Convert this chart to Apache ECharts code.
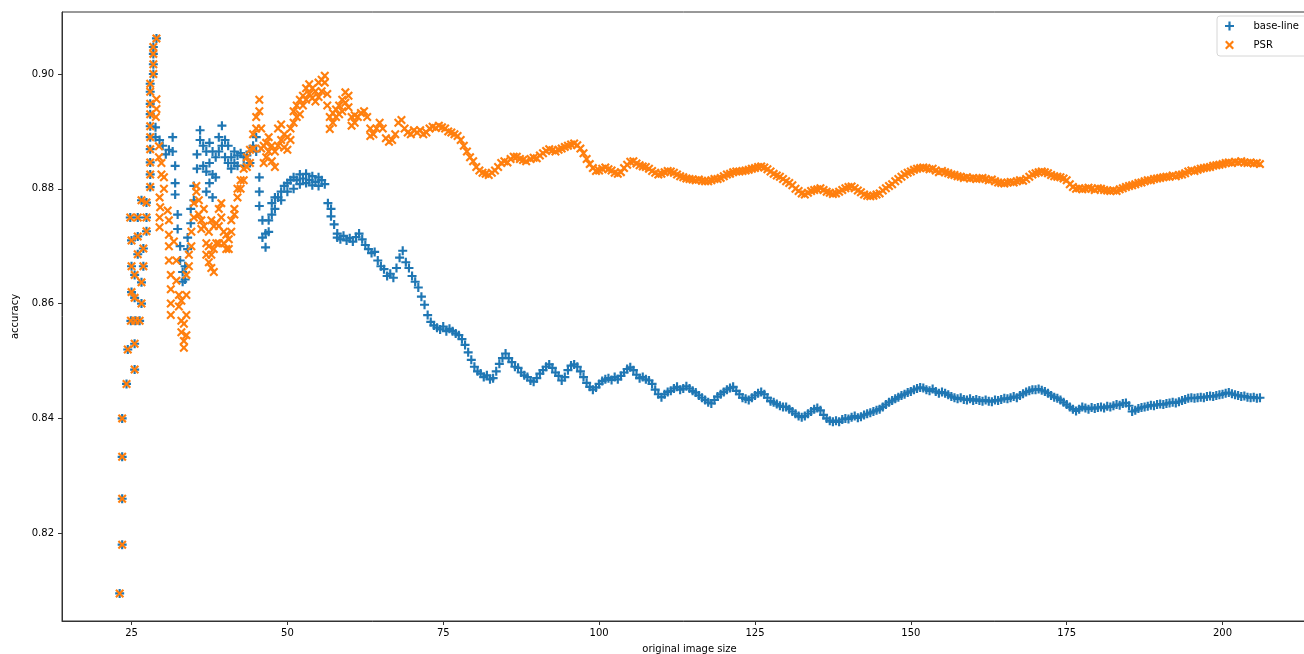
<!DOCTYPE html>
<html>
<head>
<meta charset="utf-8">
<script src="https://cdn.jsdelivr.net/npm/echarts@6/dist/echarts.min.js"></script>
<style>
  html, body { margin: 0; padding: 0; background: #fff; }
  #chart { width: 1304px; height: 654px; }
</style>
</head>
<body>
<div id="chart"></div>
<script>
// points shared by both runs (smallest images, same predictions)
const sharedPoints = [
  [23.1, 0.8095], [23.5, 0.818], [23.5, 0.826], [23.5, 0.8333], [23.5, 0.84],
  [24.2, 0.846], [25.5, 0.8485], [24.4, 0.852], [25.5, 0.853],
  [24.9, 0.857], [25.6, 0.857], [26.3, 0.857], [25.0, 0.862], [25.5, 0.861], [26.6, 0.860],
  [25.0, 0.8665], [26.9, 0.8665], [25.5, 0.865], [26.6, 0.8637], [26.0, 0.8686], [26.9, 0.8696],
  [25.0, 0.871], [26.0, 0.8717], [27.4, 0.8726], [24.8, 0.875], [26.0, 0.875], [27.4, 0.875],
  [26.6, 0.878], [27.4, 0.8776],
  [28.0, 0.8803], [28.0, 0.8825], [28.0, 0.8846], [28.0, 0.8869], [28.0, 0.889],
  [28.0, 0.8909], [28.0, 0.893], [28.0, 0.8948], [28.0, 0.8969], [28.0, 0.8983],
  [28.5, 0.90], [28.5, 0.9017], [28.5, 0.9035], [28.5, 0.9047], [29.0, 0.9062]
];

// base-line: [original image size, accuracy]
const baseLinePoints = [
  [28.85, 0.8907], [28.85, 0.889], [29.5, 0.8885], [30, 0.8875], [30.5, 0.886], [31, 0.8868],
  [31.6, 0.889], [31.6, 0.8865], [32, 0.884], [32, 0.881], [32, 0.879],
  [32.4, 0.8755], [32.4, 0.873], [32.8, 0.870], [32.8, 0.8675], [33.2, 0.8655], [33.2, 0.8638],
  [33.6, 0.8642], [33.6, 0.8665], [34, 0.8695], [34, 0.8715], [34.5, 0.874], [34.5, 0.8765],
  [35, 0.878], [35, 0.8805], [35.5, 0.8835], [35.5, 0.886], [36, 0.8885], [36, 0.8902],
  [36.5, 0.8875], [36.5, 0.884], [37, 0.8795], [37, 0.883], [37, 0.8865],
  [37.5, 0.888], [37.5, 0.8845], [37.5, 0.881], [38, 0.8785], [38, 0.8825], [38, 0.8865],
  [38.5, 0.8855], [38.5, 0.882], [39, 0.8865], [39, 0.889], [39.5, 0.891], [39.5, 0.8875],
  [40, 0.8885], [40, 0.8855], [40.5, 0.8845], [40.5, 0.8875], [41, 0.8855], [41, 0.8835],
  [41.5, 0.8845], [41.5, 0.8865], [42, 0.8858], [42, 0.884], [42.5, 0.8862],
  [43, 0.8855], [43, 0.884], [43.5, 0.8858], [44, 0.8865], [44, 0.8845], [44.5, 0.8875],
  [45, 0.889], [45, 0.8865], [45.5, 0.882], [45.5, 0.8795], [45.5, 0.877],
  [46, 0.8745], [46, 0.8715], [46.5, 0.8698], [46.5, 0.8722], [47, 0.8745], [47, 0.8725],
  [47.5, 0.8755], [47.5, 0.8775], [48, 0.8765], [48, 0.8785], [48.5, 0.8785],
  [49, 0.8795], [49, 0.878], [49.5, 0.8805], [50, 0.8795], [50, 0.881], [50.5, 0.8815],
  [51, 0.88], [51, 0.882], [51.5, 0.8815], [52, 0.8825], [52, 0.8808], [52.5, 0.8818],
  [53, 0.8826], [53, 0.881], [53.5, 0.8815], [54, 0.8822], [54, 0.8806], [54.5, 0.8812],
  [55, 0.8805], [55, 0.882], [55.5, 0.8815], [56, 0.8808], [56.5, 0.8775],
  [57, 0.8752], [57, 0.8765], [57.5, 0.8738], [58, 0.8715], [58, 0.8722],
  [58.5, 0.8712], [59, 0.8718], [59.5, 0.871], [60, 0.8714], [60.5, 0.8708], [61, 0.8716],
  [61.5, 0.8722], [62, 0.8712], [62.5, 0.8702], [63, 0.8695], [63.5, 0.8688], [64, 0.869],
  [64.5, 0.8675], [65, 0.8665], [65.5, 0.866], [66, 0.8648], [66.5, 0.8652], [67, 0.8645],
  [67.5, 0.8662], [68, 0.868], [68.5, 0.8692], [69, 0.8672], [69.5, 0.8662], [70, 0.8648],
  [70.5, 0.8638], [71, 0.8628], [71.5, 0.8612], [72, 0.8598], [72.5, 0.858], [73, 0.8568],
  [73.5, 0.8562], [74, 0.8558], [74.5, 0.8555], [75, 0.856], [75.5, 0.8552], [76, 0.8556],
  [76.5, 0.8552], [77, 0.8548], [77.5, 0.8545], [78, 0.8538], [78.5, 0.8528], [79, 0.8515],
  [79.5, 0.8502], [80, 0.849], [80.5, 0.8482], [81, 0.8478], [81.5, 0.8472], [82, 0.8475],
  [82.5, 0.8468], [83, 0.847], [83.5, 0.8482], [84, 0.8495], [84.5, 0.8505], [85, 0.8513],
  [85.5, 0.8505], [86, 0.8498], [86.5, 0.849], [87, 0.8488], [87.5, 0.848], [88, 0.8475],
  [88.5, 0.8472], [89, 0.8466], [89.5, 0.8464], [90, 0.847], [90.5, 0.8478], [91, 0.8484],
  [91.5, 0.849], [92, 0.8494], [92.5, 0.8488], [93, 0.848], [93.5, 0.8474], [94, 0.8466],
  [94.5, 0.8472], [95, 0.8484], [95.5, 0.8492], [96, 0.8494], [96.5, 0.849], [97, 0.8482],
  [97.5, 0.8472], [98, 0.8462], [98.5, 0.8455], [99, 0.845], [99.5, 0.8454], [100, 0.846],
  [100.5, 0.8465], [101, 0.8468], [101.5, 0.847], [102, 0.8467], [102.5, 0.8472], [103, 0.8468],
  [103.5, 0.8474], [104, 0.848], [104.5, 0.8486], [105, 0.8489], [105.5, 0.8484], [106, 0.8476],
  [106.5, 0.847], [107, 0.8472], [107.5, 0.8468], [108, 0.8466], [108.5, 0.846], [109, 0.845],
  [109.5, 0.8442], [110, 0.8437], [110.5, 0.8442], [111, 0.8446], [111.5, 0.8448], [112, 0.8452],
  [112.5, 0.8455], [113, 0.845], [113.5, 0.8452], [114, 0.8456], [114.5, 0.8452], [115, 0.8448],
  [115.5, 0.8445], [116, 0.844], [116.5, 0.8436], [117, 0.8432], [117.5, 0.8428], [118, 0.8426],
  [118.5, 0.8432], [119, 0.8438], [119.5, 0.8442], [120, 0.8446], [120.5, 0.845], [121, 0.8453],
  [121.5, 0.8455], [122, 0.8448], [122.5, 0.8442], [123, 0.8436], [123.5, 0.8434], [124, 0.8432],
  [124.5, 0.8436], [125, 0.844], [125.5, 0.8444], [126, 0.8446], [126.5, 0.8442], [127, 0.8436],
  [127.5, 0.843], [128, 0.8428], [128.5, 0.8425], [129, 0.8422], [129.5, 0.842], [130, 0.842],
  [130.5, 0.8416], [131, 0.8412], [131.5, 0.8408], [132, 0.8404], [132.5, 0.8402], [133, 0.8404],
  [133.5, 0.8408], [134, 0.8412], [134.5, 0.8416], [135, 0.8418], [135.5, 0.8414], [136, 0.8406],
  [136.5, 0.84], [137, 0.8396], [137.5, 0.8394], [138, 0.8396], [138.5, 0.8394], [139, 0.8398],
  [139.5, 0.84], [140, 0.8399], [140.5, 0.8402], [141, 0.8404], [141.5, 0.8401], [142, 0.8403],
  [142.5, 0.8406], [143, 0.8408], [143.5, 0.841], [144, 0.8412], [144.5, 0.8414], [145, 0.8416],
  [145.5, 0.842], [146, 0.8424], [146.5, 0.8428], [147, 0.8431], [147.5, 0.8434], [148, 0.8437],
  [148.5, 0.844], [149, 0.8442], [149.5, 0.8445], [150, 0.8447], [150.5, 0.845], [151, 0.8452],
  [151.5, 0.8454], [152, 0.8453], [152.5, 0.845], [153, 0.8448], [153.5, 0.8451], [154, 0.8447],
  [154.5, 0.8444], [155, 0.8446], [155.5, 0.8444], [156, 0.8441], [156.5, 0.8438], [157, 0.8436],
  [157.5, 0.8434], [158, 0.8436], [158.5, 0.8433], [159, 0.8432], [159.5, 0.8434], [160, 0.8431],
  [160.5, 0.8433], [161, 0.8431], [161.5, 0.843], [162, 0.8432], [162.5, 0.843], [163, 0.8429],
  [163.5, 0.8432], [164, 0.8431], [164.5, 0.8433], [165, 0.8435], [165.5, 0.8434], [166, 0.8436],
  [166.5, 0.8438], [167, 0.8436], [167.5, 0.844], [168, 0.8443], [168.5, 0.8446], [169, 0.8448],
  [169.5, 0.845], [170, 0.845], [170.5, 0.8451], [171, 0.8449], [171.5, 0.8447], [172, 0.8444],
  [172.5, 0.844], [173, 0.8437], [173.5, 0.8435], [174, 0.8432], [174.5, 0.8428], [175, 0.8424],
  [175.5, 0.842], [176, 0.8416], [176.5, 0.8413], [177, 0.8416], [177.5, 0.842], [178, 0.8418],
  [178.5, 0.8416], [179, 0.8419], [179.5, 0.8417], [180, 0.8419], [180.5, 0.842], [181, 0.8418],
  [181.5, 0.8421], [182, 0.842], [182.5, 0.8422], [183, 0.8424], [183.5, 0.8423], [184, 0.8426],
  [184.5, 0.8427], [185, 0.8422], [185.5, 0.8412], [186, 0.8414], [186.5, 0.8417], [187, 0.8419],
  [187.5, 0.842], [188, 0.8421], [188.5, 0.8423], [189, 0.8422], [189.5, 0.8424], [190, 0.8425],
  [190.5, 0.8424], [191, 0.8426], [191.5, 0.8427], [192, 0.8428], [192.5, 0.8427], [193, 0.8429],
  [193.5, 0.8431], [194, 0.8433], [194.5, 0.8435], [195, 0.8436], [195.5, 0.8435], [196, 0.8436],
  [196.5, 0.8437], [197, 0.8436], [197.5, 0.8438], [198, 0.8439], [198.5, 0.8438], [199, 0.844],
  [199.5, 0.8441], [200, 0.8442], [200.5, 0.8444], [201, 0.8445], [201.5, 0.8443], [202, 0.8441],
  [202.5, 0.844], [203, 0.8438], [203.5, 0.8439], [204, 0.8437], [204.5, 0.8436], [205, 0.8437],
  [205.5, 0.8435], [206, 0.8436]
];

// PSR: [original image size, accuracy]
const psrPoints = [
  [29, 0.8956], [29, 0.8939], [28.9, 0.8925], [29.4, 0.8874], [29.4, 0.8855],
  [29.8, 0.8845], [29.8, 0.8825], [30.2, 0.882], [30.2, 0.88],
  [29.5, 0.8785], [29.6, 0.8768], [29.5, 0.875], [29.5, 0.8733], [30.8, 0.8762],
  [31, 0.8745], [31, 0.872], [31, 0.870], [31, 0.8675],
  [31.3, 0.865], [31.3, 0.8625], [31.3, 0.860], [31.3, 0.858], [31.8, 0.8708],
  [32.2, 0.8675], [32.2, 0.864], [32.6, 0.8615], [32.6, 0.8595],
  [33, 0.857], [33, 0.855], [33, 0.8605], [33.4, 0.8535], [33.4, 0.8523], [33.4, 0.8565],
  [33.8, 0.8545], [33.8, 0.858], [33.8, 0.8615], [33.8, 0.865],
  [34.2, 0.8665], [34.2, 0.8685], [34.6, 0.870], [34.6, 0.8725], [35, 0.875], [35, 0.8775],
  [35.4, 0.8795], [35.4, 0.8805], [35.8, 0.878], [35.8, 0.8755], [36.2, 0.873], [36.2, 0.8745],
  [36.6, 0.8765], [36.6, 0.8735], [37, 0.8705], [37, 0.8685],
  [37.4, 0.8672], [37.4, 0.870], [37.4, 0.8725], [37.8, 0.8662], [37.8, 0.8685], [37.8, 0.8745],
  [38.2, 0.8655], [38.2, 0.8695], [38.2, 0.8735], [38.6, 0.8705], [38.6, 0.874],
  [39, 0.8765], [39, 0.8735], [39, 0.8705], [39.4, 0.8775], [39.4, 0.875],
  [39.8, 0.8725], [39.8, 0.8705], [40.2, 0.8695], [40.2, 0.872], [40.6, 0.8695], [40.6, 0.8712],
  [41, 0.8725], [41, 0.8745], [41.5, 0.8765], [41.5, 0.8755], [42, 0.8785], [42, 0.880],
  [42.5, 0.8815], [42.5, 0.880], [43, 0.8835], [43, 0.8815], [43.5, 0.8855], [43.5, 0.8838],
  [44, 0.8868], [44, 0.8845], [44.5, 0.8895], [44.5, 0.887], [45, 0.8925], [45, 0.8905],
  [45.5, 0.8955], [45.5, 0.8935], [45.8, 0.8905], [45.8, 0.887], [46.2, 0.8845], [46.2, 0.8875],
  [46.6, 0.8855], [46.6, 0.888], [47, 0.8865], [47, 0.889], [47.5, 0.8848], [47.5, 0.8875],
  [48, 0.8838], [48, 0.8865], [48.5, 0.8875], [48.5, 0.8905], [49, 0.8885], [49, 0.8912],
  [49.5, 0.8872], [49.5, 0.8895], [50, 0.8868], [50, 0.889], [50.5, 0.8885], [50.5, 0.8905],
  [51, 0.8915], [51, 0.8935], [51.5, 0.8925], [51.5, 0.8945], [52, 0.893], [52, 0.8955],
  [52.5, 0.8945], [52.5, 0.8962], [53, 0.8955], [53, 0.8975], [53.5, 0.8965], [53.5, 0.8982],
  [54, 0.8958], [54, 0.8975], [54.5, 0.8952], [54.5, 0.897], [55, 0.896], [55, 0.8985],
  [55.5, 0.897], [55.5, 0.899], [56, 0.8985], [56, 0.8997], [56.4, 0.8965], [56.4, 0.8945],
  [56.8, 0.8925], [56.8, 0.8904], [57.3, 0.8915], [57.3, 0.8932], [57.8, 0.8925], [57.8, 0.8938],
  [58.3, 0.893], [58.3, 0.8945], [58.8, 0.8935], [58.8, 0.8955], [59.3, 0.8968], [59.3, 0.895],
  [59.8, 0.8962], [59.8, 0.8942], [60.3, 0.8925], [60.3, 0.891], [60.8, 0.8915], [60.8, 0.8928],
  [61.3, 0.8925], [61.8, 0.8932], [62.3, 0.8935], [62.8, 0.8925], [63.3, 0.8905], [63.3, 0.8892],
  [63.8, 0.8895], [64.3, 0.8905], [64.8, 0.8915], [65.3, 0.8905], [65.8, 0.8888], [66.3, 0.8882],
  [66.8, 0.8885], [67.3, 0.8895], [67.8, 0.8915], [68.3, 0.892], [68.8, 0.8905], [69.3, 0.8898],
  [69.8, 0.8895], [70.3, 0.8902], [70.8, 0.8898], [71.3, 0.8902], [71.8, 0.8895], [72.3, 0.8898],
  [72.8, 0.8905], [73.3, 0.8908], [73.8, 0.8906], [74.3, 0.891], [74.8, 0.8907], [75.3, 0.8905],
  [75.8, 0.89], [76.3, 0.8898], [76.8, 0.8895], [77.3, 0.8892], [77.8, 0.8885], [78.3, 0.8875],
  [78.8, 0.8865], [79.3, 0.8855], [79.8, 0.8848], [80.3, 0.8838], [80.8, 0.8832], [81.3, 0.8828],
  [81.8, 0.8826], [82.3, 0.8824], [82.8, 0.8828], [83.3, 0.8832], [83.8, 0.8838], [84.3, 0.8845],
  [84.8, 0.8848], [85.3, 0.8846], [85.8, 0.8852], [86.3, 0.8856], [86.8, 0.8856], [87.3, 0.8852],
  [87.8, 0.885], [88.3, 0.8848], [89, 0.8852], [89.5, 0.8854], [90, 0.8853], [90.5, 0.8858],
  [91, 0.8862], [91.5, 0.8866], [92, 0.8869], [92.5, 0.8867], [93, 0.8865], [93.5, 0.8868],
  [94, 0.887], [94.5, 0.8873], [95, 0.8875], [95.5, 0.8877], [96, 0.8879], [96.5, 0.8876],
  [97, 0.887], [97.5, 0.8862], [98, 0.8852], [98.5, 0.8843], [99, 0.8836], [99.5, 0.8831],
  [100, 0.8832], [100.5, 0.8835], [101, 0.8837], [101.5, 0.8834], [102, 0.8832], [102.5, 0.8828],
  [103, 0.8826], [103.5, 0.8829], [104, 0.8836], [104.5, 0.8842], [105, 0.8847], [105.5, 0.8848],
  [106, 0.8844], [106.5, 0.8841], [107, 0.8839], [107.5, 0.8838], [108, 0.8835], [108.5, 0.8831],
  [109, 0.8828], [109.5, 0.8825], [110, 0.8826], [110.5, 0.8829], [111, 0.8831], [111.5, 0.883],
  [112, 0.8828], [112.5, 0.8825], [113, 0.8822], [113.5, 0.882], [114, 0.8818], [114.5, 0.8817],
  [115, 0.8816], [115.5, 0.8815], [116, 0.8816], [116.5, 0.8814], [117, 0.8813], [117.5, 0.8813],
  [118, 0.8815], [118.5, 0.8817], [119, 0.8817], [119.5, 0.8819], [120, 0.8822], [120.5, 0.8825],
  [121, 0.8826], [121.5, 0.8829], [122, 0.883], [122.5, 0.883], [123, 0.8831], [123.5, 0.8832],
  [124, 0.8833], [124.5, 0.8835], [125, 0.8836], [125.5, 0.8838], [126, 0.8839], [126.5, 0.8837],
  [127, 0.8834], [127.5, 0.883], [128, 0.8826], [128.5, 0.8823], [129, 0.8821], [129.5, 0.8817],
  [130, 0.8813], [130.5, 0.881], [131, 0.8806], [131.5, 0.88], [132, 0.8796], [132.5, 0.8792],
  [133, 0.879], [133.5, 0.8793], [134, 0.8796], [134.5, 0.8798], [135, 0.8799], [135.5, 0.8801],
  [136, 0.8798], [136.5, 0.8795], [137, 0.8793], [137.5, 0.8791], [138, 0.8792], [138.5, 0.8795],
  [139, 0.8798], [139.5, 0.8801], [140, 0.8803], [140.5, 0.8804], [141, 0.8801], [141.5, 0.8797],
  [142, 0.8794], [142.5, 0.879], [143, 0.8788], [143.5, 0.8787], [144, 0.8788], [144.5, 0.879],
  [145, 0.8792], [145.5, 0.8797], [146, 0.8801], [146.5, 0.8805], [147, 0.8808], [147.5, 0.8813],
  [148, 0.8817], [148.5, 0.8821], [149, 0.8825], [149.5, 0.8828], [150, 0.883], [150.5, 0.8833],
  [151, 0.8835], [151.5, 0.8836], [152, 0.8837], [152.5, 0.8836], [153, 0.8834], [153.5, 0.8835],
  [154, 0.8832], [154.5, 0.8829], [155, 0.8831], [155.5, 0.8829], [156, 0.8827], [156.5, 0.8825],
  [157, 0.8824], [157.5, 0.8822], [158, 0.8821], [158.5, 0.8819], [159, 0.882], [159.5, 0.8818],
  [160, 0.8819], [160.5, 0.8817], [161, 0.8818], [161.5, 0.8819], [162, 0.8817], [162.5, 0.8815],
  [163, 0.8816], [163.5, 0.8813], [164, 0.8811], [164.5, 0.881], [165, 0.8809], [165.5, 0.8811],
  [166, 0.8812], [166.5, 0.8811], [167, 0.8813], [167.5, 0.8815], [168, 0.8814], [168.5, 0.8817],
  [169, 0.8821], [169.5, 0.8825], [170, 0.8827], [170.5, 0.8829], [171, 0.883], [171.5, 0.8829],
  [172, 0.8827], [172.5, 0.8824], [173, 0.8822], [173.5, 0.8821], [174, 0.882], [174.5, 0.8818],
  [175, 0.8815], [175.5, 0.8808], [176, 0.8803], [176.5, 0.88], [177, 0.8801], [177.5, 0.8799],
  [178, 0.88], [178.5, 0.8802], [179, 0.88], [179.5, 0.8798], [180, 0.8801], [180.5, 0.88],
  [181, 0.8798], [181.5, 0.8797], [182, 0.8796], [182.5, 0.8797], [183, 0.8796], [183.5, 0.8799],
  [184, 0.8801], [184.5, 0.8803], [185, 0.8805], [185.5, 0.8806], [186, 0.8808], [186.5, 0.881],
  [187, 0.8811], [187.5, 0.8813], [188, 0.8815], [188.5, 0.8815], [189, 0.8817], [189.5, 0.8818],
  [190, 0.8819], [190.5, 0.882], [191, 0.8821], [191.5, 0.8821], [192, 0.8823], [192.5, 0.8822],
  [193, 0.8824], [193.5, 0.8825], [194, 0.8827], [194.5, 0.883], [195, 0.8832], [195.5, 0.8831],
  [196, 0.8833], [196.5, 0.8835], [197, 0.8836], [197.5, 0.8837], [198, 0.8838], [198.5, 0.884],
  [199, 0.8841], [199.5, 0.8842], [200, 0.8843], [200.5, 0.8845], [201, 0.8846], [201.5, 0.8845],
  [202, 0.8847], [202.5, 0.8846], [203, 0.8848], [203.5, 0.8846], [204, 0.8845], [204.5, 0.8846],
  [205, 0.8844], [205.5, 0.8845], [206, 0.8843]
];

const xTicks = [25, 50, 75, 100, 125, 150, 175, 200];
const yTicks = [0.82, 0.84, 0.86, 0.88, 0.90];

// matplotlib style markers: '+' and 'x'
const plusPath = 'path://M3.8,0 H6.2 V3.8 H10 V6.2 H6.2 V10 H3.8 V6.2 H0 V3.8 H3.8 Z';
const crossPath = 'path://M0,1.7 L1.7,0 L5,3.3 L8.3,0 L10,1.7 L6.7,5 L10,8.3 L8.3,10 L5,6.7 L1.7,10 L0,8.3 L3.3,5 Z';

const font = 'DejaVu Sans';
const axisColor = '#333';

let myChart = echarts.init(document.getElementById('chart'));
let option = {
  animation: false,
  textStyle: { fontFamily: font },
  grid: {
    left: 62,
    top: 12,
    width: 1255,
    height: 609,
    outerBoundsMode: 'none',
    containLabel: false,
    show: true,
    borderColor: axisColor,
    borderWidth: 1
  },
  legend: {
    orient: 'vertical',
    left: 1217,
    top: 16,
    data: ['base-line', 'PSR'],
    itemWidth: 20,
    itemHeight: 9,
    itemGap: 9,
    padding: [5, 60, 6, 8],
    backgroundColor: '#fff',
    borderColor: '#d6d6d6',
    borderWidth: 1,
    borderRadius: 3,
    textStyle: { fontFamily: font, fontSize: 10, color: '#000', padding: [0, 0, 0, 9] }
  },
  xAxis: {
    type: 'value',
    min: 13.85,
    max: 215.15,
    name: 'original image size',
    nameLocation: 'middle',
    nameGap: 23,
    nameTextStyle: { fontFamily: font, fontSize: 10, color: '#000' },
    axisLine: { onZero: false, lineStyle: { color: axisColor, width: 1 } },
    axisTick: { show: true, length: 4, customValues: xTicks, lineStyle: { color: axisColor } },
    axisLabel: { customValues: xTicks, margin: 7, fontFamily: font, fontSize: 10, color: '#000' },
    splitLine: { show: false }
  },
  yAxis: {
    type: 'value',
    min: 0.8047,
    max: 0.9108,
    name: 'accuracy',
    nameLocation: 'middle',
    nameRotate: 90,
    nameGap: 33,
    nameTextStyle: { fontFamily: font, fontSize: 10, color: '#000' },
    axisLine: { show: true, onZero: false, lineStyle: { color: axisColor, width: 1 } },
    axisTick: { show: true, length: 4, customValues: yTicks, lineStyle: { color: axisColor } },
    axisLabel: {
      customValues: yTicks,
      margin: 8,
      fontFamily: font,
      fontSize: 10,
      color: '#000',
      formatter: v => v.toFixed(2)
    },
    splitLine: { show: false }
  },
  series: [
    {
      name: 'base-line',
      type: 'scatter',
      symbol: plusPath,
      symbolSize: 9,
      itemStyle: { color: '#1f77b4', opacity: 1 },
      data: sharedPoints.concat(baseLinePoints)
    },
    {
      name: 'PSR',
      type: 'scatter',
      symbol: crossPath,
      symbolSize: 9,
      itemStyle: { color: '#ff7f0e', opacity: 1 },
      data: sharedPoints.concat(psrPoints)
    }
  ]
};
myChart.setOption(option);
</script>
</body>
</html>
